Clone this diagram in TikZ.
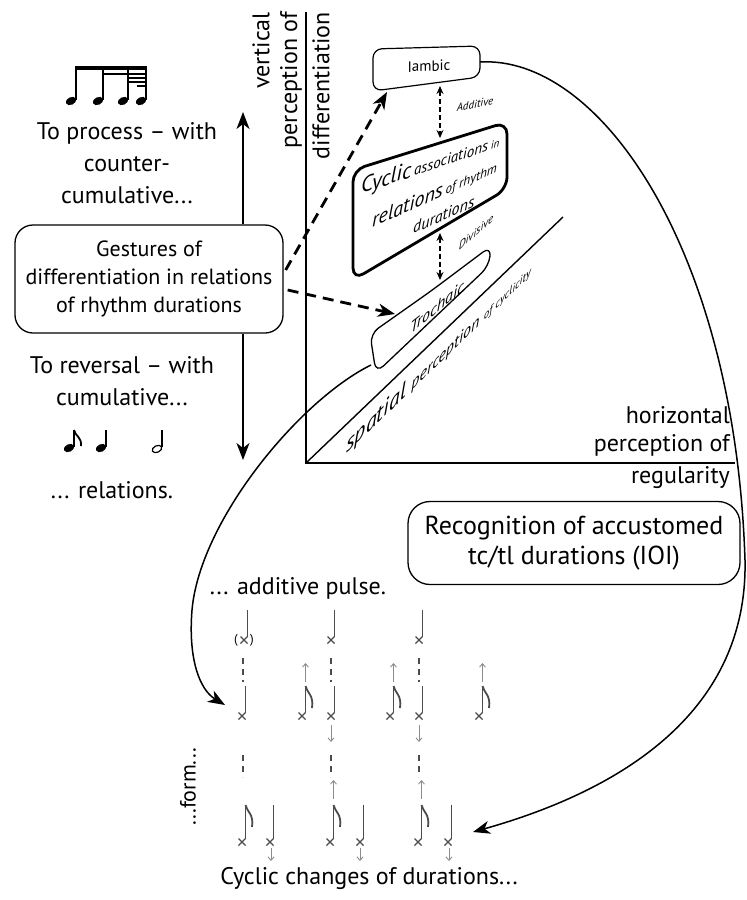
\documentclass[tikz,border=0pt]{standalone}
\usepackage{fontspec}
\setmainfont{PT Sans}
\usetikzlibrary{arrows.meta,calc}
\definecolor{notegray}{gray}{0.3}
\definecolor{arrgray}{gray}{0.55}
\newcommand\myXhead[2]{\draw[notegray,line width=1.1pt] ({#1-3.5},{#2-3.5}) -- ({#1+3.5},{#2+3.5}) ({#1-3.5},{#2+3.5}) -- ({#1+3.5},{#2-3.5});}
\newcommand\myQuarter[3]{\myXhead{#1}{#2}\draw[notegray,line width=1.3pt] ({#1+3.5},{#2-3.5}) -- ({#1+3.5},{#2-#3});}
\newcommand\myEighth[3]{\myQuarter{#1}{#2}{#3}\draw[notegray,line width=1.8pt] ({#1+3.5},{#2-#3}) .. controls ({#1+5},{#2-#3+7}) and ({#1+12},{#2-#3+9}) .. ({#1+10},{#2-#3+22});}
\newcommand\myArr[3]{\draw[arrgray,line width=0.9pt,-{Straight Barb[length=3.5pt,width=6pt]}] (#1,#2) -- (#1,#3);}
\newcommand\myDash[3]{\draw[notegray,line width=1.6pt,dash pattern=on 6pt off 5pt] (#1,#2) -- (#1,#3);}
\newcommand\myHead[2]{\fill[rotate around={25:(#1,#2)}] (#1,#2) ellipse [x radius=5.5, y radius=3.8];}
\begin{document}
\begin{tikzpicture}[x=1pt,y=-1pt,
 txt/.style={font=\fontsize{24}{32}\selectfont, inner sep=0pt, align=center},
 rbox/.style={draw, line width=1.3pt, rounded corners=18pt, align=center, inner sep=0pt},
 bigtip/.style={-{Stealth[length=17pt,width=13pt,inset=5pt]}},
 thickdash/.style={line width=2.8pt, dash pattern=on 11pt off 7pt},
 smalldash/.style={line width=1.5pt, dash pattern=on 5pt off 3pt, {Stealth[length=8pt,width=7pt]}-{Stealth[length=8pt,width=7pt]}},
 ital/.style={font=\itshape, inner sep=0pt},
]
\useasboundingbox (0,0) rectangle (747,900);

% axes
\coordinate (O) at (306,463);
\coordinate (Ytop) at (306,12);
\coordinate (Xend) at (735,463);
\coordinate (Dend) at (563,217);
\draw[line width=1.6pt] (Ytop) -- (O) -- (Xend);
\draw[line width=1.4pt] (O) -- (Dend);

% axis labels
\node[txt, rotate=90, anchor=east] (vl1) at (261,12) {vertical};
\node[txt, rotate=90, anchor=east] (vl2) at (291,12) {perception of};
\node[txt, rotate=90, anchor=east] (vl3) at (321,12) {differentiation};
\node[txt, anchor=east] (hl1) at (730,415) {horizontal};
\node[txt, anchor=east] (hl2) at (730,445) {perception of};
\node[txt, anchor=east] (hl3) at (730,478) {regularity};

% spatial perception of cyclicity
\node[ital, font=\itshape\fontsize{22}{22}\selectfont, yslant=0.96, anchor=north west] (sp1) at (346,438) {spatial};
\node[ital, font=\itshape\fontsize{16}{16}\selectfont, yslant=0.96, anchor=north west] (sp2) at ($(sp1.north east)+(5,-1)$) {perception};
\node[ital, font=\itshape\fontsize{11}{11}\selectfont, yslant=0.96, anchor=north west] (sp3) at ($(sp2.north east)+(4,-1)$) {of cyclicity};

% Iambic box
\draw[line width=1.2pt, rounded corners=9pt] (426,47.5) -- (480,46) -- (480,77) -- (373,91) -- (373,49) -- cycle;
\node[font=\fontsize{15}{15}\selectfont, inner sep=0pt, yslant=0.04] (iamb) at (429,66) {Iambic};
\coordinate (iambR) at (480,62);
\coordinate (iambTip) at (387,92);

% Cyclic box
\draw[line width=2.8pt, rounded corners=12pt] (430,146) -- (507,122) -- (507,189) -- (353,280) -- (353,170) -- cycle;
\node[ital, yslant=0.34, anchor=base west] (cy1) at (361,194) {{\fontsize{22}{22}\selectfont Cyclic} {\fontsize{15}{15}\selectfont associations} {\fontsize{11}{11}\selectfont in}};
\node[ital, yslant=0.45, anchor=base west] (cy2) at (372,228) {{\fontsize{20}{20}\selectfont relations} {\fontsize{13}{13}\selectfont of rhythm}};
\node[ital, yslant=0.45, anchor=base west] (cy3) at (413,234) {\fontsize{16}{16}\selectfont durations};
\coordinate (cyTop) at (440,138);
\coordinate (cyBot) at (440,233);

% Trochaic box
\draw[line width=1.3pt, rounded corners=10pt] (431,291) -- (491,246) -- (489,266) -- (376,373) -- (370,334) -- cycle;
\node[ital, font=\itshape\fontsize{16}{16}\selectfont, yslant=0.8] (troch) at (437,307) {Trochaic};
\coordinate (trochL) at (371,365);
\coordinate (trochTip) at (395,314);
\coordinate (trochTop) at (440,280);
\coordinate (iambBot) at (440,86);

% Additive / Divisive
\draw[smalldash] (iambBot) -- (cyTop);
\draw[smalldash] (cyBot) -- (trochTop);
\node[ital, font=\itshape\fontsize{11}{11}\selectfont, yslant=0.2] (add) at (475,104) {Additive};
\node[ital, font=\itshape\fontsize{11}{11}\selectfont, yslant=0.85] (div) at (476,232) {Divisive};

% Gestures box
\node[rbox, font=\fontsize{22}{28}\selectfont, minimum width=268pt, minimum height=108pt] (gest) at (149,279) {Gestures of\\differentiation in relations\\of rhythm durations};
\coordinate (upTip) at (243,112);
\coordinate (dnTip) at (243,460);
\draw[line width=1.6pt, bigtip] (upTip |- gest.north) -- (upTip);
\draw[line width=1.6pt, bigtip] (dnTip |- gest.south) -- (dnTip);
\draw[thickdash, bigtip] ($(gest.east)+(2,-9)$) -- (iambTip);
\draw[thickdash, bigtip] ($(gest.east)+(4,11)$) -- (trochTip);

% left texts
\node[txt] (proc) at (127,163) {To process – with\\counter-\\cumulative...};
\node[txt] (rev) at (122,381) {To reversal – with\\cumulative...};
\node[txt] (rel) at (112,490) {... relations.};

% top beamed notes
\foreach \hx in {71,98,123,141} {\myHead{\hx}{101}\draw[line width=1.3pt] ({\hx+5},100) -- ({\hx+5},67);}
\fill (75,66) rectangle (147,70);
\fill (103,72.5) rectangle (147,74.5);
\fill (128,77) rectangle (147,79);
\fill (128,81) rectangle (147,83);
\fill (137,85) rectangle (147,87);

% bottom note group
\myHead{69}{448}\draw[line width=1.3pt] (74,447) -- (74,430);
\draw[line width=1.8pt] (74,430) .. controls (75,436) and (82,437) .. (81,446);
\myHead{101}{448}\draw[line width=1.3pt] (106,447) -- (106,430);
\draw[line width=1.2pt, rotate around={25:(157,449)}] (157,449) ellipse [x radius=5, y radius=3.3];
\draw[line width=1.2pt] (162,447) -- (162,430);

% Recognition box
\node[rbox, font=\fontsize{26}{30}\selectfont, rounded corners=22pt, minimum width=332pt, minimum height=83pt] (recog) at (574,543) {Recognition of accustomed\\tc/tl durations (IOI)};

% big curves
\coordinate (endR) at (473,832);
\coordinate (endF) at (225,705);
\draw[line width=1.5pt, bigtip] (iambR) .. controls (600,55) and (735,250) .. (745,560) .. controls (748,700) and (640,785) .. (endR);
\draw[line width=1.5pt, bigtip] (trochL) .. controls (300,400) and (200,520) .. (192,610) .. controls (188,660) and (200,690) .. (endF);

% bottom texts
\node[txt] (pulse) at (298,588) {... additive pulse.};
\node[txt, font=\fontsize{22}{22}\selectfont, rotate=90] (form) at (188,787) {...form...};
\node[txt] (cyc) at (369,878) {Cyclic changes of durations...};

% notation grid
\node[font=\fontsize{13}{13}\selectfont, inner sep=0pt] (pl) at (236,640) {(};
\node[font=\fontsize{13}{13}\selectfont, inner sep=0pt] (pr) at (252,640) {)};
\myQuarter{244}{640}{30}
\myQuarter{331}{640}{30}
\myQuarter{419}{640}{30}
\myDash{243}{658}{682}
\myDash{331}{658}{682}
\myDash{419}{658}{682}
\myQuarter{242}{716}{30}
\myEighth{302}{716}{30}
\myQuarter{331}{716}{30}
\myEighth{390}{716}{30}
\myQuarter{419}{716}{30}
\myEighth{479}{716}{30}
\myArr{305.5}{682}{663}
\myArr{393.5}{682}{663}
\myArr{482.5}{682}{663}
\myArr{331}{725}{742}
\myArr{419}{725}{742}
\myDash{243}{755}{777}
\myDash{331}{755}{777}
\myDash{419}{755}{777}
\myArr{333.5}{799}{780}
\myArr{421.5}{799}{780}
\myEighth{242}{842}{37}
\myQuarter{270}{842}{37}
\myEighth{330}{842}{37}
\myQuarter{360}{842}{37}
\myEighth{418}{842}{37}
\myQuarter{448}{842}{37}
\myArr{271}{848}{861}
\myArr{360}{848}{861}
\myArr{449}{848}{861}
\end{tikzpicture}
\end{document}
